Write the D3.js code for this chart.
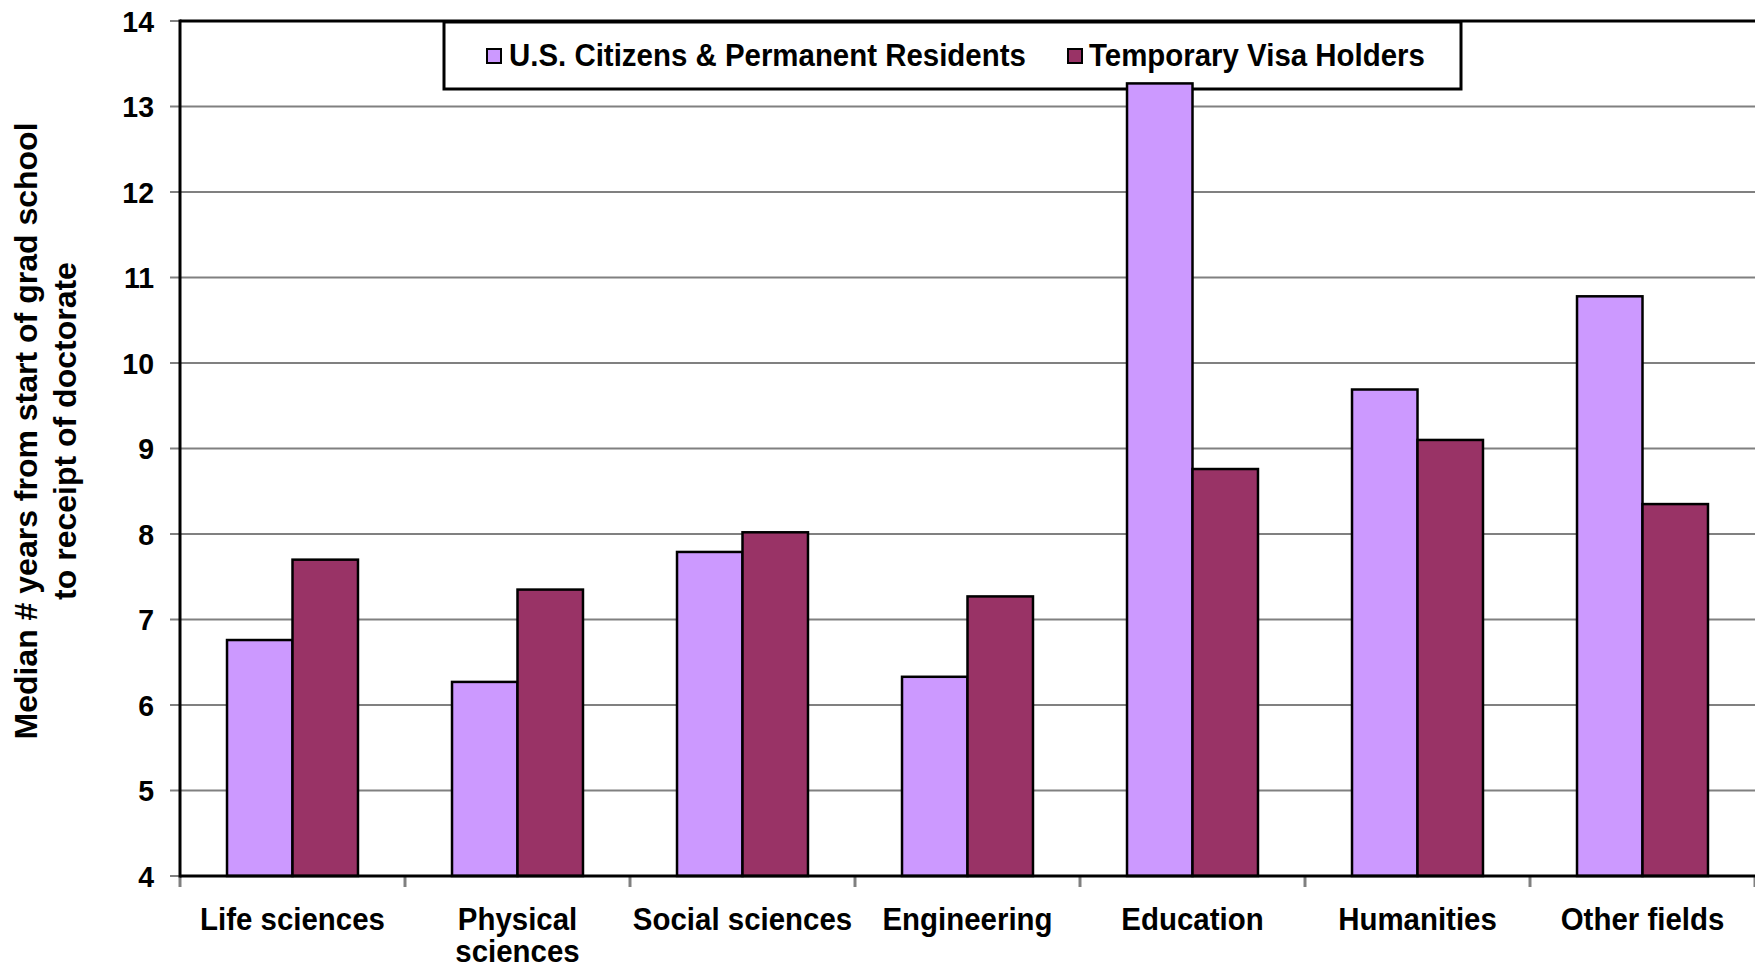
<!DOCTYPE html>
<html>
<head>
<meta charset="utf-8">
<script src="https://cdn.jsdelivr.net/npm/d3@7/dist/d3.min.js"></script>
<style>
  html, body { margin: 0; padding: 0; background: #ffffff; }
  svg { display: block; }
  text { font-family: "Liberation Sans", Arial, sans-serif; font-weight: bold; fill: #000; }
</style>
</head>
<body>
<svg id="chart" width="1755" height="970"></svg>
<script>
const categories = ["Life sciences", "Physical sciences", "Social sciences", "Engineering", "Education", "Humanities", "Other fields"];
const seriesNames = ["U.S. Citizens & Permanent Residents", "Temporary Visa Holders"];
const citizens = [6.76, 6.27, 7.79, 6.33, 13.27, 9.69, 10.78];
const visaHolders = [7.70, 7.35, 8.02, 7.27, 8.76, 9.10, 8.35];
const yTicks = [4, 5, 6, 7, 8, 9, 10, 11, 12, 13, 14];
const colors = ["#CC99FF", "#993366"];
const yTitle = ["Median # years from start of grad school", "to receipt of doctorate"];

const svg = d3.select("#chart");
const pLeft = 180, pRight = 1755, pTop = 21, pBottom = 876;
const sx = 0.95; // horizontal squeeze of label glyphs

const x = d3.scaleBand().domain(categories).range([pLeft, pRight]).paddingInner(0).paddingOuter(0);
const xs = d3.scaleBand().domain(seriesNames).range([0, x.bandwidth()]).paddingInner(0).paddingOuter(0.718);
const y = d3.scaleLinear().domain([4, 14]).range([pBottom, pTop]);

// gridlines (extend left as tick marks)
svg.append("g").selectAll("line").data(yTicks.filter(d => d > 4 && d < 14)).join("line")
  .attr("x1", pLeft - 10).attr("x2", pRight)
  .attr("y1", d => y(d)).attr("y2", d => y(d))
  .attr("stroke", "#808080").attr("stroke-width", 2);
svg.append("g").selectAll("line").data([4, 14]).join("line")
  .attr("x1", pLeft - 10).attr("x2", pLeft)
  .attr("y1", d => y(d)).attr("y2", d => y(d))
  .attr("stroke", "#808080").attr("stroke-width", 2);

// y tick labels
svg.append("g").selectAll("text").data(yTicks).join("text")
  .attr("transform", d => `translate(${pLeft - 26},${y(d)}) scale(${sx},1)`)
  .attr("dy", "0.36em")
  .attr("text-anchor", "end")
  .attr("font-size", 30)
  .text(d => d);

// x ticks at band boundaries
const boundaries = categories.map(c => x(c)).concat([pRight]);
svg.append("g").selectAll("line").data(boundaries).join("line")
  .attr("x1", d => d).attr("x2", d => d)
  .attr("y1", pBottom).attr("y2", pBottom + 11)
  .attr("stroke", "#808080").attr("stroke-width", 3);

// legend (drawn under the bars)
const lg = svg.append("g");
lg.append("rect").attr("x", 444).attr("y", 22).attr("width", 1017).attr("height", 67)
  .attr("fill", "#fff").attr("stroke", "#000").attr("stroke-width", 3);
const legendX = [[487, 509], [1068, 1089]];
seriesNames.forEach((s, j) => {
  lg.append("rect").attr("x", legendX[j][0]).attr("y", 49).attr("width", 14).attr("height", 14)
    .attr("fill", colors[j]).attr("stroke", "#000").attr("stroke-width", 2);
  lg.append("text").attr("transform", `translate(${legendX[j][1]},66) scale(${sx},1)`)
    .attr("font-size", 31).text(s);
});

// bars
const data = categories.map((c, i) => ({ cat: c, values: [citizens[i], visaHolders[i]] }));
const groups = svg.append("g").selectAll("g").data(data).join("g")
  .attr("transform", d => `translate(${x(d.cat)},0)`);
groups.selectAll("rect").data(d => d.values.map((v, j) => ({ v, s: seriesNames[j], j }))).join("rect")
  .attr("x", d => xs(d.s))
  .attr("y", d => y(d.v))
  .attr("width", xs.bandwidth())
  .attr("height", d => pBottom - y(d.v))
  .attr("fill", d => colors[d.j])
  .attr("stroke", "#000").attr("stroke-width", 2.5);

// plot border lines
svg.append("line").attr("x1", pLeft).attr("x2", pRight).attr("y1", pTop).attr("y2", pTop)
  .attr("stroke", "#000").attr("stroke-width", 3);
svg.append("line").attr("x1", pLeft).attr("x2", pLeft).attr("y1", pTop - 1.5).attr("y2", pBottom + 1.5)
  .attr("stroke", "#000").attr("stroke-width", 3);
svg.append("line").attr("x1", pLeft).attr("x2", pRight).attr("y1", pBottom).attr("y2", pBottom)
  .attr("stroke", "#000").attr("stroke-width", 3);

// category labels
const labelLines = { "Physical sciences": ["Physical", "sciences"] };
svg.append("g").selectAll("text").data(categories).join("text")
  .attr("transform", d => `translate(${x(d) + x.bandwidth() / 2},930) scale(${sx},1)`)
  .attr("text-anchor", "middle")
  .attr("font-size", 31)
  .each(function(d) {
    const lines = labelLines[d] || [d];
    const t = d3.select(this);
    lines.forEach((ln, k) => {
      t.append("tspan").attr("x", 0).attr("dy", k === 0 ? 0 : 32).text(ln);
    });
  });

// y axis title
const yt = svg.append("text")
  .attr("transform", "translate(0,431) rotate(-90)")
  .attr("text-anchor", "middle")
  .attr("font-size", 32);
yTitle.forEach((ln, k) => {
  yt.append("tspan").attr("x", 0).attr("y", 37 + k * 39).text(ln);
});
</script>
</body>
</html>
